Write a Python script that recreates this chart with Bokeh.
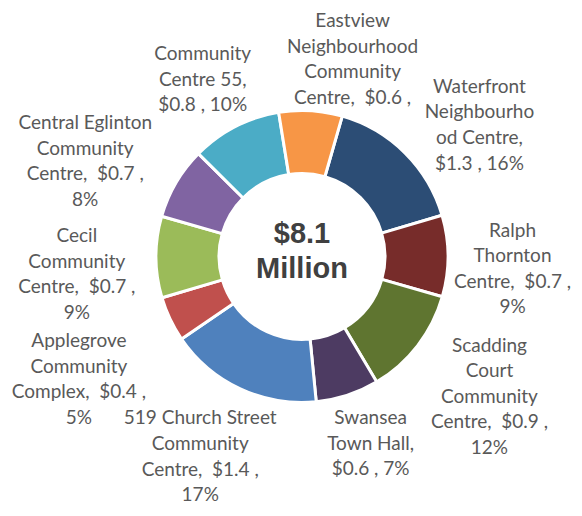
import numpy as np
from bokeh.plotting import figure
from bokeh.models import ColumnDataSource
from bokeh.core.properties import value
from bokeh.embed import file_html
from bokeh.resources import INLINE

# ---- data ----
names = ["Waterfront Neighbourhood Centre", "Ralph Thornton Centre",
         "Scadding Court Community Centre", "Swansea Town Hall",
         "519 Church Street Community Centre", "Applegrove Community Complex",
         "Cecil Community Centre", "Central Eglinton Community Centre",
         "Community Centre 55", "Eastview Neighbourhood Community Centre"]
amounts = [1.3, 0.7, 0.9, 0.6, 1.4, 0.4, 0.7, 0.7, 0.8, 0.6]
percents = [16, 9, 12, 7, 17, 5, 9, 8, 10, 7]
NB = "\u00a0"
label_lines = [
    ["Waterfront", "Neighbourho", "od Centre,", "$1.3 , 16%"],
    ["Ralph", "Thornton", "Centre," + NB + " $0.7 ,", "9%"],
    ["Scadding", "Court", "Community", "Centre," + NB + " $0.9 ,", "12%"],
    ["Swansea", "Town Hall,", "$0.6 , 7%"],
    ["519 Church Street", "Community", "Centre," + NB + " $1.4 ,", "17%"],
    ["Applegrove", "Community", "Complex," + NB + " $0.4 ,", "5%"],
    ["Cecil", "Community", "Centre," + NB + " $0.7 ,", "9%"],
    ["Central Eglinton", "Community", "Centre," + NB + " $0.7 ,", "8%"],
    ["Community", "Centre 55,", "$0.8 , 10%"],
    ["Eastview", "Neighbourhood", "Community", "Centre," + NB + " $0.6 ,"],
]
total_text = ["$8.1", "Million"]

# ---- style / layout ----
colors = ["#2C4D75", "#772C2A", "#5F7530", "#4D3B62", "#4F81BD",
          "#C0504D", "#9BBB59", "#8064A2", "#4BACC6", "#F79646"]
first_angle = 16.0  # degrees clockwise from 12 o'clock
label_r = [221.6, 210.8, 233.2, 197.8, 223.4, 254.1, 225.8, 237.3, 204.2, 204.8]
label_theta = [53.2, 93.0, 126.5, 159.7, 207.1, 241.4, 265.8, 294.0, 330.9, 14.3]
line_h = 25.6
R_OUT, R_IN = 146, 83

W, H = 574, 508
CX, CY = 301.5, 256
p = figure(width=W, height=H, output_backend="svg", toolbar_location=None,
           x_range=(-CX, W - CX), y_range=(CY - H, CY), min_border=0)
p.axis.visible = False
p.grid.visible = False
p.outline_line_color = None
p.background_fill_color = "white"

frac = np.array(percents, dtype=float) / sum(percents)
cum = np.concatenate([[0], np.cumsum(frac)])
theta_start = first_angle + 360 * cum[:-1]
theta_end = first_angle + 360 * cum[1:]
start = np.radians(90 - theta_start)
end = np.radians(90 - theta_end)

src = ColumnDataSource(dict(start=start, end=end, color=colors, name=names,
                            amt=amounts, pct=percents))
p.annular_wedge(x=0, y=0, inner_radius=R_IN, outer_radius=R_OUT,
                start_angle="start", end_angle="end", direction="clock",
                fill_color="color", line_color="white", line_width=3, source=src)

# labels
xs, ys, txt = [], [], []
for lines, r, th in zip(label_lines, label_r, label_theta):
    cx = r * np.sin(np.radians(th))
    cy = r * np.cos(np.radians(th))
    n = len(lines)
    for k, ln in enumerate(lines):
        xs.append(cx)
        ys.append(cy + (n - 1) / 2 * line_h - k * line_h)
        txt.append(ln)
p.text(x=xs, y=ys, text=txt, text_align="center", text_baseline="middle",
       text_font=value("Lato"), text_font_size="19px", text_color="#595959")

p.text(x=[0, 0], y=[24, -11], text=total_text, text_align="center",
       text_baseline="middle", text_font=value("Liberation Sans"),
       text_font_style="bold", text_font_size="29px", text_color="#404040")

open("out.html", "w").write(file_html(p, INLINE))
